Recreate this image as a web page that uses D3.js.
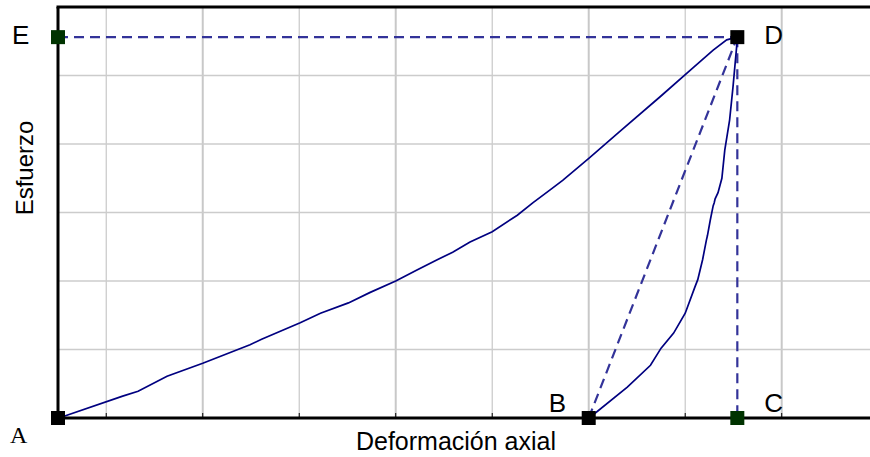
<!DOCTYPE html>
<html>
<head>
<meta charset="utf-8">
<script src="https://cdnjs.cloudflare.com/ajax/libs/d3/7.8.5/d3.min.js"></script>
<style>
  body { margin: 0; background: #fff; }
  svg { display: block; }
</style>
</head>
<body>
<div id="chart"></div>
<script>
// loading branch A -> D (units: x grid step = 1, y grid step = 1)
var loadX = [0, 0.07, 0.67, 0.83, 1.13, 1.50, 1.99, 2.11, 2.51, 2.72, 3.01, 3.23, 3.50, 3.72, 3.93, 4.09, 4.27, 4.50, 4.76, 4.92, 5.10, 5.23, 5.51, 5.82, 6.24, 6.58, 6.79, 6.93, 7.04];
var loadY = [0, 0.03, 0.32, 0.39, 0.61, 0.80, 1.07, 1.15, 1.39, 1.53, 1.68, 1.83, 2.00, 2.16, 2.31, 2.42, 2.57, 2.72, 2.96, 3.14, 3.33, 3.47, 3.80, 4.18, 4.69, 5.11, 5.37, 5.52, 5.56];

// unloading branch D -> B
var unloadX = [7.04, 7.035, 6.995, 6.96, 6.91, 6.88, 6.84, 6.81, 6.80, 6.79, 6.76, 6.73, 6.72, 6.68, 6.63, 6.60, 6.50, 6.38, 6.25, 6.14, 5.90, 5.54, 5.50];
var unloadY = [5.56, 5.45, 4.83, 4.35, 3.91, 3.50, 3.29, 3.20, 3.14, 3.10, 2.89, 2.66, 2.60, 2.31, 2.02, 1.91, 1.53, 1.24, 1.02, 0.77, 0.45, 0.04, 0];

// labelled points
var pointNames = ["A", "B", "C", "D", "E"];
var pointX = [0, 5.5, 7.04, 7.04, 0];
var pointY = [0, 0, 0, 5.56, 5.56];

// grid positions
var gridX = [0.5, 1.5, 2.5, 3.5, 4.5, 5.5, 6.5, 7.5];
var gridY = [1, 2, 3, 4, 5];

var xTitle = "Deformación axial";
var yTitle = "Esfuerzo";

var W = 870, H = 457;
var margin = { top: 7, right: 0, bottom: 39, left: 58 };

var svg = d3.select("#chart").append("svg")
  .attr("width", W)
  .attr("height", H);

var x = d3.scaleLinear().domain([0, 8.415]).range([margin.left, W - margin.right]);
var y = d3.scaleLinear().domain([0, 6]).range([H - margin.bottom, margin.top]);

// grid
svg.append("g").selectAll("line").data(gridX).enter().append("line")
  .attr("x1", d => x(d)).attr("x2", d => x(d))
  .attr("y1", y(6)).attr("y2", y(0))
  .attr("stroke", "#c8c8c8")
  .attr("stroke-width", (d, i) => i % 2 ? 2 : 1.2);

svg.append("g").selectAll("line").data(gridY).enter().append("line")
  .attr("x1", x(0)).attr("x2", W)
  .attr("y1", d => y(d)).attr("y2", d => y(d))
  .attr("stroke", "#cccccc")
  .attr("stroke-width", 1.3);

// small ticks on the bottom axis
svg.append("g").selectAll("line").data(gridX).enter().append("line")
  .attr("x1", d => x(d)).attr("x2", d => x(d))
  .attr("y1", y(0)).attr("y2", y(0) - 5)
  .attr("stroke", "#000")
  .attr("stroke-width", 1);

// dashed construction lines
var byName = {};
pointNames.forEach((n, i) => byName[n] = [pointX[i], pointY[i]]);
var dashed = [["E", "D"], ["D", "C"], ["B", "D"]];
svg.append("g").selectAll("line").data(dashed).enter().append("line")
  .attr("x1", d => x(byName[d[0]][0])).attr("y1", d => y(byName[d[0]][1]))
  .attr("x2", d => x(byName[d[1]][0])).attr("y2", d => y(byName[d[1]][1]))
  .attr("stroke", "#333399")
  .attr("stroke-width", 2.2)
  .attr("stroke-dasharray", "10,6");

// curves
var line = d3.line().x(d => x(d[0])).y(d => y(d[1]));
var loadPts = loadX.map((v, i) => [v, loadY[i]]);
var unloadPts = unloadX.map((v, i) => [v, unloadY[i]]);

[loadPts, unloadPts].forEach(function (pts) {
  svg.append("path")
    .datum(pts)
    .attr("d", line)
    .attr("fill", "none")
    .attr("stroke", "#000080")
    .attr("stroke-width", 1.7);
});

// frame: left, top, bottom
svg.append("line").attr("x1", x(0)).attr("x2", x(0)).attr("y1", y(6)).attr("y2", y(0))
  .attr("stroke", "#000").attr("stroke-width", 3);
svg.append("line").attr("x1", x(0) - 1.5).attr("x2", W).attr("y1", y(6)).attr("y2", y(6))
  .attr("stroke", "#000").attr("stroke-width", 3);
svg.append("line").attr("x1", x(0) - 1.5).attr("x2", W).attr("y1", y(0)).attr("y2", y(0))
  .attr("stroke", "#000").attr("stroke-width", 3);

// markers
var green = ["C", "E"];
svg.append("g").selectAll("rect").data(pointNames).enter().append("rect")
  .attr("x", (d, i) => x(pointX[i]) - 7)
  .attr("y", (d, i) => y(pointY[i]) - 7)
  .attr("width", 14).attr("height", 14)
  .attr("fill", d => green.includes(d) ? "#003300" : "#000");

// point labels
var labelOffset = { A: [-48, 25], B: [-40, -6], C: [27, -6], D: [27, 7], E: [-46, 7] };
svg.append("g").selectAll("text").data(pointNames).enter().append("text")
  .attr("x", (d, i) => x(pointX[i]) + labelOffset[d][0])
  .attr("y", (d, i) => y(pointY[i]) + labelOffset[d][1])
  .attr("font-family", d => d == "A" ? "'Liberation Serif', serif" : "'Liberation Sans', Arial, sans-serif")
  .attr("font-size", d => d == "A" ? 24 : 26)
  .attr("fill", "#000")
  .text(d => d);

// axis titles
svg.append("text")
  .attr("x", 456).attr("y", 450)
  .attr("text-anchor", "middle")
  .attr("font-family", "'Liberation Sans', Arial, sans-serif")
  .attr("font-size", 25)
  .text(xTitle);

svg.append("text")
  .attr("transform", "translate(33,168) rotate(-90)")
  .attr("text-anchor", "middle")
  .attr("font-family", "'Liberation Sans', Arial, sans-serif")
  .attr("font-size", 24)
  .text(yTitle);
</script>
</body>
</html>
